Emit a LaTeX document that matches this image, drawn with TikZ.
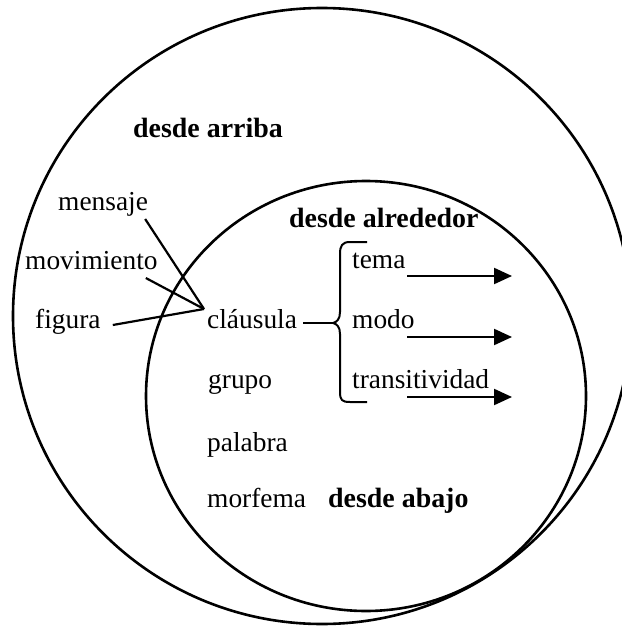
\documentclass[tikz,border=0pt]{standalone}
\usepackage{fontspec}
\setmainfont{Liberation Serif}
\usetikzlibrary{arrows.meta}
\begin{document}
\begin{tikzpicture}[x=1bp,y=-1bp,
  lbl/.style={anchor=base west,inner sep=0pt,font=\fontsize{27.5}{30}\selectfont},
  blbl/.style={lbl,font=\fontsize{28}{30}\selectfont\bfseries},
  ring/.style={draw,line width=2.6bp},
  conn/.style={draw,line width=2.2bp},
  arr/.style={conn,-{Triangle[length=18bp,width=16bp]}}]
\useasboundingbox (0,0) rectangle (622,627);
\draw[ring] (322,316) ellipse [x radius=309,y radius=308];
\draw[ring] (366,396) ellipse [x radius=220,y radius=215];

\node[blbl] (arriba) at (133,138) {desde arriba};
\node[blbl] (alrededor) at (289,227) {desde alrededor};
\node[blbl] (abajo) at (328,507) {desde abajo};

\node[lbl] (mensaje) at (58,210) {mensaje};
\node[lbl] (movimiento) at (25,269) {movimiento};
\node[lbl] (figura) at (35,328) {figura};
\node[lbl] (clausula) at (207,328) {cláusula};
\node[lbl] (grupo) at (208,388) {grupo};
\node[lbl] (palabra) at (207,451) {palabra};
\node[lbl] (morfema) at (207,507) {morfema};

\node[lbl] (tema) at (352,268) {tema};
\node[lbl] (modo) at (352,328) {modo};
\node[lbl] (trans) at (352,388) {transitividad};

\coordinate (conv) at (204,309);
\coordinate (tip) at (333,323);

\draw[conn] ([shift={(-3,9)}]mensaje.base east) -- (conv);
\draw[conn] ([shift={(-12,9)}]movimiento.base east) -- (conv);
\draw[conn] ([shift={(12,-3)}]figura.base east) -- (conv);
\draw[conn] ([shift={(6,-5)}]clausula.base east) -- (tip);

\draw[line width=2bp,line join=round] (367,242) -- (350,242)
  .. controls (342,242) and (340,246) .. (340,254) -- (340,312)
  .. controls (340,319) and (337,322) .. (tip)
  .. controls (337,324) and (340,327) .. (340,334) -- (340,392)
  .. controls (340,400) and (342,402) .. (350,402) -- (367,402);

\draw[arr] ([shift={(55,8)}]tema.base west) -- ([shift={(160,8)}]tema.base west);
\draw[arr] ([shift={(55,9)}]modo.base west) -- ([shift={(160,9)}]modo.base west);
\draw[arr] ([shift={(55,9)}]trans.base west) -- ([shift={(160,9)}]trans.base west);
\end{tikzpicture}
\end{document}
